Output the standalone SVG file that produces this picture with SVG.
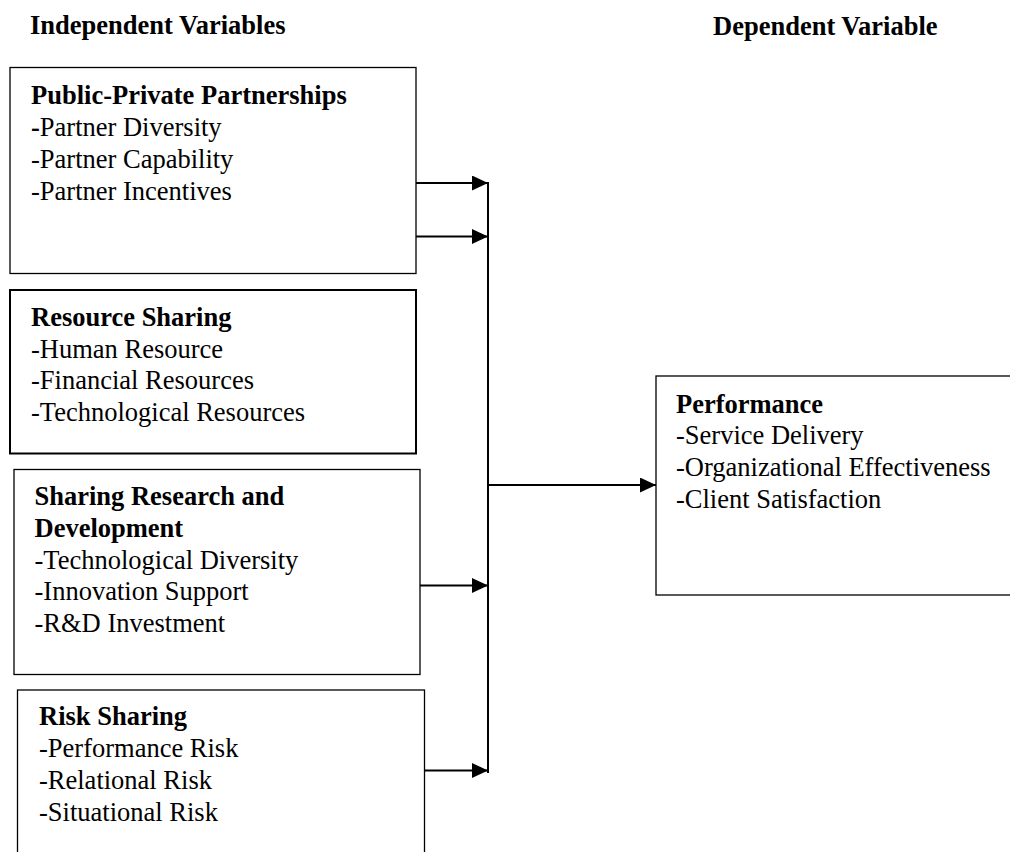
<svg xmlns="http://www.w3.org/2000/svg" width="1010" height="852" viewBox="0 0 1010 852">
<style>
text{font-family:"Liberation Serif","Times New Roman",serif;font-size:26.5px;fill:#000}
.b{font-weight:bold}
.box{fill:#fff;stroke:#000;stroke-width:1.3}
.thick{stroke-width:2}
.con{stroke:#000;stroke-width:2;fill:none}
</style>
<defs>
<marker id="ah" markerWidth="16" markerHeight="15" refX="16" refY="7.5" orient="auto" markerUnits="userSpaceOnUse">
<path d="M0,0 L16,7.5 L0,15 Z" fill="#000"/>
</marker>
</defs>
<rect width="1010" height="852" fill="#fff"/>
<g id="headers">
<text class="b" x="30" y="33.5">Independent Variables</text>
<text class="b" x="713" y="34.5">Dependent Variable</text>
</g>
<g id="ppp">
<rect class="box" x="10" y="67.5" width="406" height="206"/>
<text class="b" x="31" y="104">Public-Private Partnerships</text>
<text x="31" y="136"><tspan class="b">-</tspan>Partner Diversity</text>
<text x="31" y="168">-Partner Capability</text>
<text x="31" y="199.5">-Partner Incentives</text>
</g>
<g id="resource">
<rect class="box thick" x="10" y="290" width="406" height="163.5"/>
<text class="b" x="31" y="326">Resource Sharing</text>
<text x="31" y="357.5">-Human Resource</text>
<text x="31" y="389">-Financial Resources</text>
<text x="31" y="421">-Technological Resources</text>
</g>
<g id="rnd">
<rect class="box" x="14" y="469.5" width="406" height="205"/>
<text class="b" x="34.5" y="505">Sharing Research and</text>
<text class="b" x="34.5" y="536.5">Development</text>
<text x="34.5" y="568.5">-Technological Diversity</text>
<text x="34.5" y="600">-Innovation Support</text>
<text x="34.5" y="631.5">-R&amp;D Investment</text>
</g>
<g id="risk">
<rect class="box" x="17.5" y="690" width="407" height="200"/>
<text class="b" x="39" y="725">Risk Sharing</text>
<text x="39" y="757">-Performance Risk</text>
<text x="39" y="789">-Relational Risk</text>
<text x="39" y="820.5">-Situational Risk</text>
</g>
<g id="performance">
<rect class="box" x="656" y="376" width="400" height="219"/>
<text class="b" x="676" y="412.5">Performance</text>
<text x="676" y="444">-Service Delivery</text>
<text x="676" y="476">-Organizational Effectiveness</text>
<text x="676" y="507.5">-Client Satisfaction</text>
</g>
<g id="connectors">
<line class="con" x1="416" y1="183" x2="488" y2="183" marker-end="url(#ah)"/>
<line class="con" x1="416" y1="236.5" x2="488" y2="236.5" marker-end="url(#ah)"/>
<line class="con" x1="420" y1="585.5" x2="488" y2="585.5" marker-end="url(#ah)"/>
<line class="con" x1="424.5" y1="770.5" x2="488" y2="770.5" marker-end="url(#ah)"/>
<line class="con" x1="488" y1="182" x2="488" y2="773"/>
<line class="con" x1="488" y1="485" x2="656" y2="485" marker-end="url(#ah)"/>
</g>
</svg>
